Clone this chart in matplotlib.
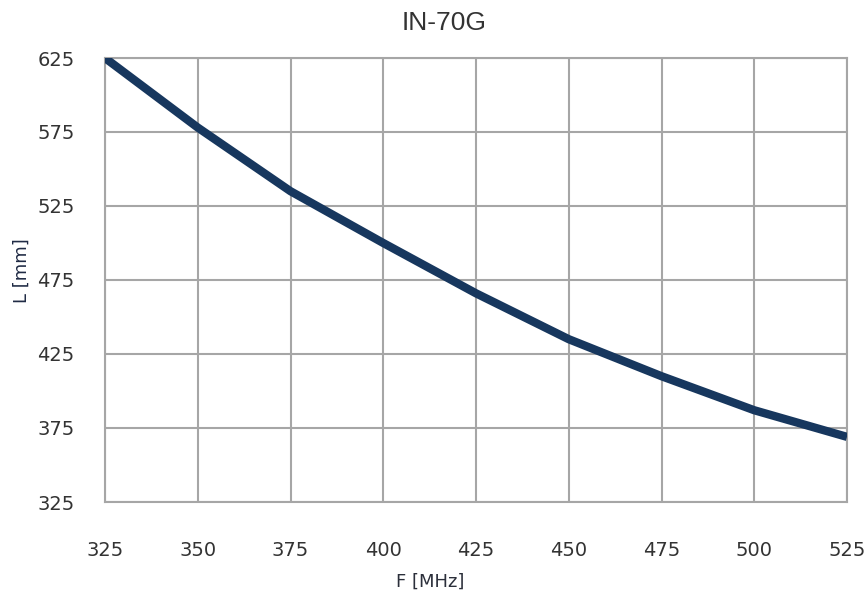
import matplotlib
matplotlib.use("Agg")
import matplotlib.pyplot as plt
from matplotlib import font_manager

# values
freq_mhz = [325, 350, 375, 400, 425, 450, 475, 500, 525]
length_mm = [625, 578, 535, 500, 466, 435, 410, 387, 369]
x_ticks = [325, 350, 375, 400, 425, 450, 475, 500, 525]
y_ticks = [325, 375, 425, 475, 525, 575, 625]

installed = {f.name for f in font_manager.fontManager.ttflist}
tick_font = [f for f in ['DejaVu Sans Condensed', 'Liberation Sans Narrow'] if f in installed] + ['DejaVu Sans']

fig = plt.figure(figsize=(8.67, 5.98), dpi=100)
ax = fig.add_axes([105/867, 1-502/598, (847-105)/867, (502-58)/598])

ax.plot(freq_mhz, length_mm, color='#17375e', lw=6, solid_joinstyle='round',
        solid_capstyle='butt', zorder=3)

ax.set_xlim(325, 525)
ax.set_ylim(325, 625)
ax.set_xticks(x_ticks)
ax.set_yticks(y_ticks)
ax.grid(True, color='#a6a6a6', lw=1.5)
ax.set_axisbelow(True)
for s in ax.spines.values():
    s.set_color('#a6a6a6')
    s.set_linewidth(1.5)
ax.tick_params(length=0, colors='#333333', labelsize=14)
ax.tick_params(axis='x', pad=28)
ax.tick_params(axis='y', pad=22)
for lab in ax.get_xticklabels() + ax.get_yticklabels():
    lab.set_family(tick_font)

# title and axis labels
fig.text(444/867, 1-23/598, 'IN-70G', ha='center', va='center',
         fontsize=19, color='#333333', family=['Liberation Sans', 'DejaVu Sans'])
fig.text(430/867, 1-582/598, 'F [MHz]', ha='center', va='center',
         fontsize=13, color='#2b2f3a', family=tick_font)
fig.text(22/867, 1-271/598, 'L [mm]', ha='center', va='center', rotation=90,
         fontsize=13, color='#1f2a44', family=tick_font)

fig.savefig('out.png', dpi=100)
